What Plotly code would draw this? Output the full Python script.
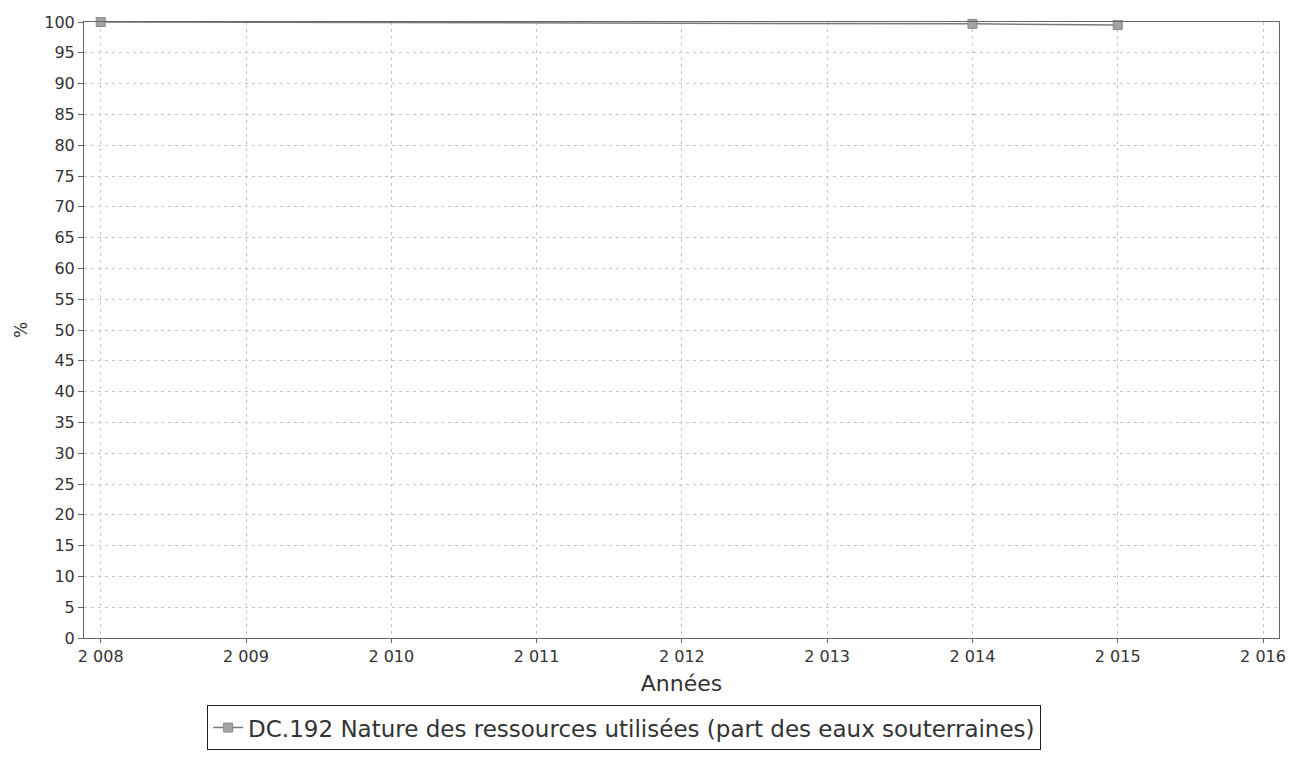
import plotly.graph_objects as go

years = [2008, 2014, 2015]
values = [100.0, 99.7, 99.5]
tick_vals = [2008, 2009, 2010, 2011, 2012, 2013, 2014, 2015, 2016]
tick_text = ["2 008", "2 009", "2 010", "2 011", "2 012", "2 013", "2 014", "2 015", "2 016"]
y_ticks = list(range(0, 101, 5))
series_name = "DC.192 Nature des ressources utilisées (part des eaux souterraines)"

fig = go.Figure()
fig.add_trace(go.Scatter(
    x=years, y=values, mode="lines+markers", name=series_name,
    line=dict(color="#7a7a7a", width=1.5),
    marker=dict(symbol="square", size=9, color="#a3a3a3", line=dict(color="#8a8a8a", width=1)),
    cliponaxis=False,
))

fig.update_layout(
    width=1307, height=759,
    paper_bgcolor="white", plot_bgcolor="white",
    margin=dict(l=76, r=36, t=14, b=129, autoexpand=False),
    font=dict(family="DejaVu Sans", size=16, color="#333333"),
    showlegend=True,
    legend=dict(
        x=0.103, xanchor="left", y=-0.109, yanchor="top",
        orientation="h", bordercolor="#222222", borderwidth=1,
        font=dict(family="DejaVu Sans", size=23, color="#333333"),
        bgcolor="white", itemwidth=30,
    ),
    xaxis=dict(
        range=[2007.885, 2016.11], tickmode="array", tickvals=tick_vals, ticktext=tick_text,
        showgrid=True, gridcolor="#c4c4c4", griddash="3px,4px", gridwidth=1,
        showline=True, linecolor="#666666", linewidth=1, mirror=True,
        ticks="outside", ticklen=4, tickcolor="#666666",
        tickfont=dict(size=16, color="#333333"),
        title=dict(text="Années", font=dict(size=22, color="#333333"), standoff=10),
        zeroline=False,
    ),
    yaxis=dict(
        range=[0, 100], tickmode="array", tickvals=y_ticks,
        showgrid=True, gridcolor="#c4c4c4", griddash="3px,4px", gridwidth=1,
        showline=True, linecolor="#666666", linewidth=1, mirror=True,
        ticks="outside", ticklen=5, tickcolor="#666666",
        tickfont=dict(size=16, color="#333333"),
        title=dict(text="%", font=dict(size=17, color="#333333"), standoff=12),
        zeroline=False,
    ),
)

fig.write_html("out.html")
